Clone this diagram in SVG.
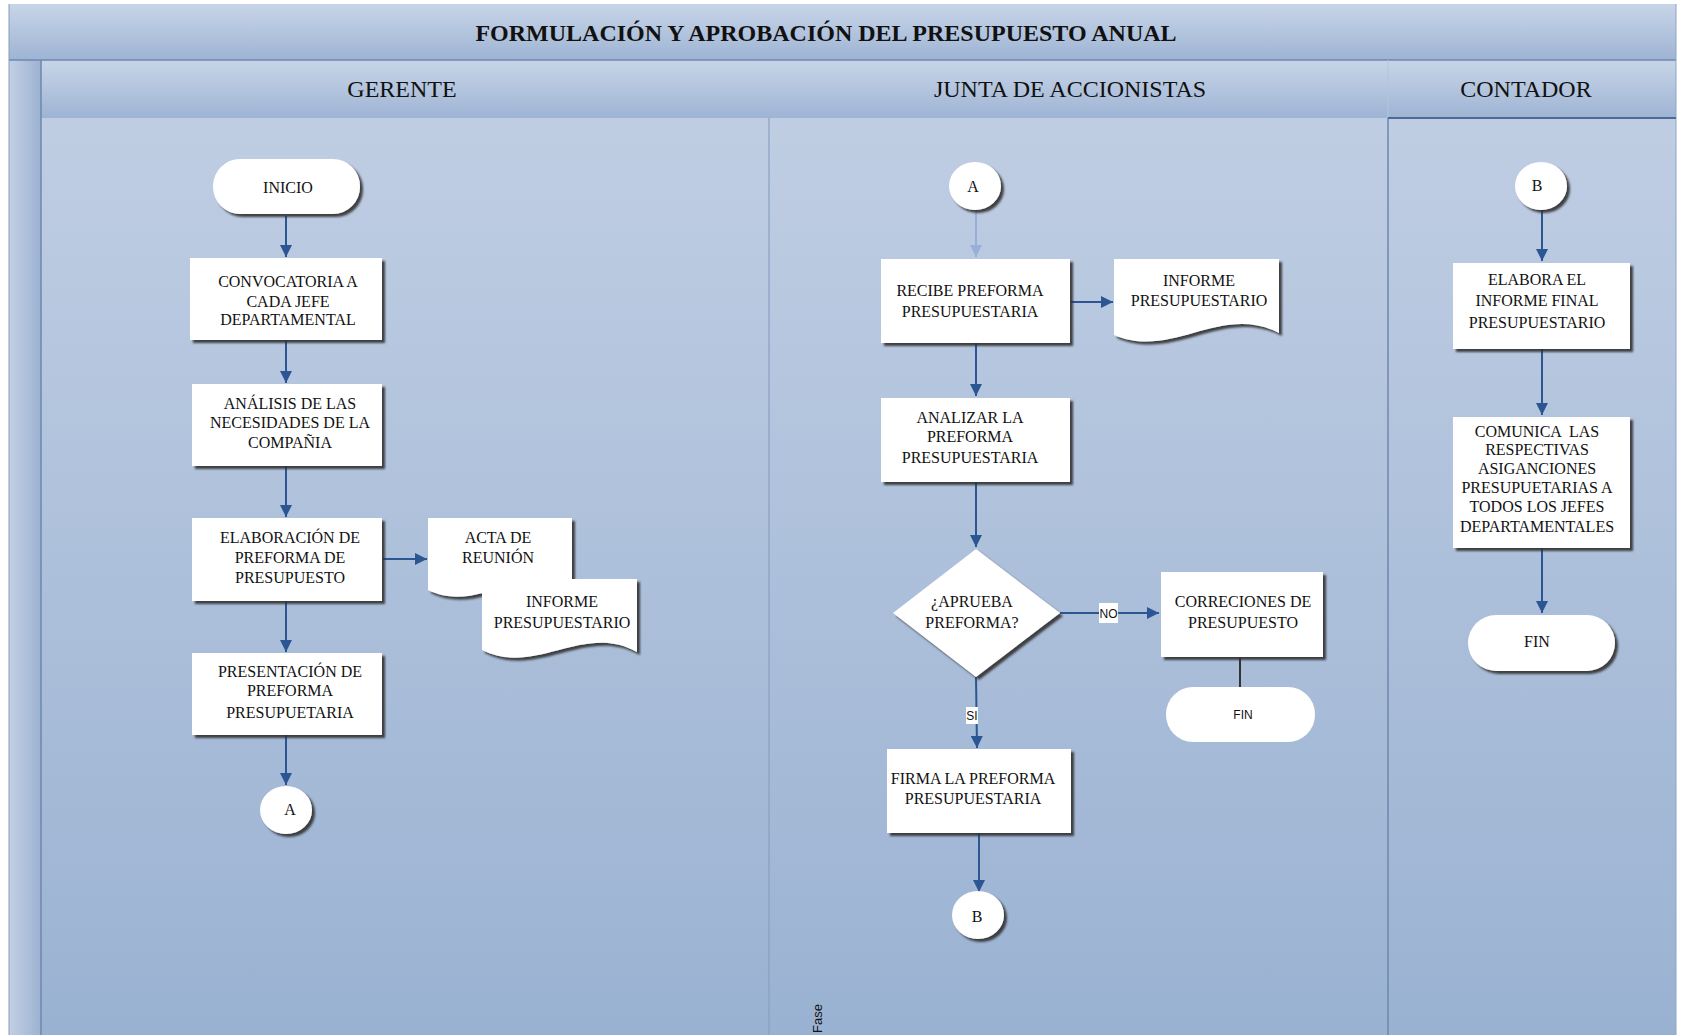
<svg xmlns="http://www.w3.org/2000/svg" width="1684" height="1035" viewBox="0 0 1684 1035">
<defs>
<linearGradient id="gBand" x1="0" y1="0" x2="0" y2="1">
<stop offset="0" stop-color="#c8d5e8"/><stop offset="1" stop-color="#9eb4d4"/>
</linearGradient>
<linearGradient id="gBody" x1="0" y1="0" x2="0" y2="1">
<stop offset="0" stop-color="#c4d1e5"/><stop offset="1" stop-color="#9ab2d2"/>
</linearGradient>
<linearGradient id="gStrip" x1="0" y1="0" x2="1" y2="0">
<stop offset="0" stop-color="#c3d0e5"/><stop offset="1" stop-color="#9cb2d2"/>
</linearGradient>
<filter id="sh" x="-10%" y="-10%" width="130%" height="130%">
<feDropShadow dx="3" dy="3" stdDeviation="1" flood-color="#333" flood-opacity="0.9"/>
</filter>
<marker id="ah" markerUnits="userSpaceOnUse" markerWidth="12" markerHeight="12" refX="12" refY="6" orient="auto">
<path d="M0,0 L12,6 L0,12 z" fill="#2b5593"/>
</marker>
<marker id="ahL" markerUnits="userSpaceOnUse" markerWidth="12" markerHeight="12" refX="12" refY="6" orient="auto">
<path d="M0,0 L12,6 L0,12 z" fill="#98b0d8"/>
</marker>
<style>
.t{font-family:"Liberation Serif","Times New Roman",serif;font-size:16px;fill:#111;text-anchor:middle;white-space:pre}
.h{font-family:"Liberation Serif","Times New Roman",serif;font-size:24px;fill:#111;text-anchor:middle}
.s{font-family:"Liberation Sans",Arial,sans-serif;font-size:12px;fill:#111;text-anchor:middle}
.box{fill:#fff;filter:url(#sh)}
.c{stroke:#2b5593;stroke-width:2;fill:none;marker-end:url(#ah)}
</style>
</defs>
<rect width="1684" height="1035" fill="#fff"/>
<g id="frame">
<rect x="9" y="4" width="1667" height="1031" fill="url(#gBody)"/>
<rect x="9" y="4" width="1667" height="56" fill="url(#gBand)"/>
<rect x="41" y="60" width="1635" height="58" fill="url(#gBand)"/>
<rect x="9" y="60" width="32" height="975" fill="url(#gStrip)"/>
<line x1="9" y1="60" x2="1676" y2="60" stroke="#6d88b0" stroke-width="1.5"/>
<line x1="41" y1="60" x2="41" y2="1035" stroke="#6f87ab" stroke-width="1.5"/>
<line x1="9" y1="4" x2="9" y2="1035" stroke="#8a9bb5" stroke-width="1"/>
<line x1="1676" y1="4" x2="1676" y2="1035" stroke="#8ea5c5" stroke-width="1"/>
<line x1="769" y1="118" x2="769" y2="1035" stroke="#8a9fc0" stroke-width="1.2"/>
<line x1="1388" y1="60" x2="1388" y2="118" stroke="#b5c4da" stroke-width="1"/>
<line x1="1388" y1="118" x2="1388" y2="1035" stroke="#6f87ab" stroke-width="1.5"/>
<line x1="1388" y1="118" x2="1676" y2="118" stroke="#4a6a9a" stroke-width="2"/>
<text x="826" y="41" class="h" font-weight="bold">FORMULACIÓN Y APROBACIÓN DEL PRESUPUESTO ANUAL</text>
<text x="402" y="97" class="h">GERENTE</text>
<text x="1070" y="97" class="h">JUNTA DE ACCIONISTAS</text>
<text x="1526" y="97" class="h">CONTADOR</text>
<text transform="translate(822,1033) rotate(-90)" font-family="Liberation Sans,Arial,sans-serif" font-size="13" fill="#111">Fase</text>
</g>
<g id="connectors">
<line class="c" x1="286" y1="216" x2="286" y2="257"/>
<line class="c" x1="286" y1="340" x2="286" y2="383"/>
<line class="c" x1="286" y1="466" x2="286" y2="517"/>
<line class="c" x1="383" y1="559" x2="427" y2="559"/>
<line class="c" x1="286" y1="601" x2="286" y2="652"/>
<line class="c" x1="286" y1="735" x2="286" y2="785"/>
<line x1="976" y1="211" x2="976" y2="257" stroke="#98b0d8" stroke-width="2" marker-end="url(#ahL)"/>
<line class="c" x1="1071" y1="302" x2="1113" y2="302"/>
<line class="c" x1="976" y1="343" x2="976" y2="396"/>
<line class="c" x1="976" y1="482" x2="976" y2="547"/>
<line class="c" x1="1060" y1="613" x2="1159" y2="613"/>
<line x1="1240" y1="657" x2="1240" y2="687" stroke="#333" stroke-width="2"/>
<line class="c" x1="976" y1="677" x2="977" y2="748"/>
<line class="c" x1="979" y1="833" x2="979" y2="892"/>
<line class="c" x1="1542" y1="210" x2="1542" y2="261"/>
<line class="c" x1="1542" y1="349" x2="1542" y2="415"/>
<line class="c" x1="1542" y1="548" x2="1542" y2="613"/>
<rect x="1099" y="603" width="19" height="20" fill="#fff"/>
<text x="1108.5" y="617.5" class="s">NO</text>
<rect x="966" y="707" width="12" height="17" fill="#fff"/>
<text x="972" y="720" class="s">SI</text>
</g>
<g id="inicio">
<rect x="213" y="159" width="147" height="55" rx="27" class="box"/>
<text x="288" y="193" class="t">INICIO</text>
</g>
<g id="convocatoria">
<rect x="190" y="258" width="192" height="82" class="box"/>
<text x="288" y="287" class="t">CONVOCATORIA A</text>
<text x="288" y="307" class="t">CADA JEFE</text>
<text x="288" y="325" class="t">DEPARTAMENTAL</text>
</g>
<g id="analisis">
<rect x="192" y="384" width="190" height="82" class="box"/>
<text x="290" y="409" class="t">ANÁLISIS DE LAS</text>
<text x="290" y="428" class="t">NECESIDADES DE LA</text>
<text x="290" y="448" class="t">COMPAÑIA</text>
</g>
<g id="elaboracion">
<rect x="192" y="518" width="190" height="83" class="box"/>
<text x="290" y="543" class="t">ELABORACIÓN DE</text>
<text x="290" y="563" class="t">PREFORMA DE</text>
<text x="290" y="583" class="t">PRESUPUESTO</text>
</g>
<g id="acta">
<path d="M428,518 H572 V588 C522,560 478,615 428,590 Z" class="box"/>
<text x="498" y="543" class="t">ACTA DE</text>
<text x="498" y="563" class="t">REUNIÓN</text>
</g>
<g id="informe1">
<path d="M482,579 H637 V652 C583,622 536,677 482,650 Z" class="box"/>
<text x="562" y="607" class="t">INFORME</text>
<text x="562" y="628" class="t">PRESUPUESTARIO</text>
</g>
<g id="presentacion">
<rect x="192" y="653" width="190" height="82" class="box"/>
<text x="290" y="677" class="t">PRESENTACIÓN DE</text>
<text x="290" y="696" class="t">PREFORMA</text>
<text x="290" y="718" class="t">PRESUPUETARIA</text>
</g>
<g id="conA1">
<ellipse cx="286" cy="810" rx="26" ry="24" class="box"/>
<text x="290" y="815" class="t">A</text>
</g>
<g id="conA2">
<ellipse cx="975" cy="186" rx="26" ry="24" class="box"/>
<text x="973" y="192" class="t">A</text>
</g>
<g id="recibe">
<rect x="881" y="259" width="189" height="84" class="box"/>
<text x="970" y="296" class="t">RECIBE PREFORMA</text>
<text x="970" y="317" class="t">PRESUPUESTARIA</text>
</g>
<g id="informe2">
<path d="M1114,259 H1279 V333 C1221,303 1172,360 1114,335 Z" class="box"/>
<text x="1199" y="286" class="t">INFORME</text>
<text x="1199" y="306" class="t">PRESUPUESTARIO</text>
</g>
<g id="analizar">
<rect x="881" y="398" width="189" height="84" class="box"/>
<text x="970" y="423" class="t">ANALIZAR LA</text>
<text x="970" y="442" class="t">PREFORMA</text>
<text x="970" y="463" class="t">PRESUPUESTARIA</text>
</g>
<g id="decision">
<polygon points="976,549 1060,613 976,677 893,613" class="box"/>
<text x="972" y="607" class="t">¿APRUEBA</text>
<text x="972" y="628" class="t">PREFORMA?</text>
</g>
<g id="correciones">
<rect x="1161" y="572" width="162" height="85" class="box"/>
<text x="1243" y="607" class="t">CORRECIONES DE</text>
<text x="1243" y="628" class="t">PRESUPUESTO</text>
</g>
<g id="fin1">
<rect x="1166" y="687" width="149" height="55" rx="27" fill="#fff"/>
<text x="1243" y="719" class="s" font-size="13">FIN</text>
</g>
<g id="firma">
<rect x="887" y="749" width="184" height="84" class="box"/>
<text x="973" y="784" class="t">FIRMA LA PREFORMA</text>
<text x="973" y="804" class="t">PRESUPUESTARIA</text>
</g>
<g id="conB1">
<ellipse cx="978" cy="915" rx="26" ry="24" class="box"/>
<text x="977" y="922" class="t">B</text>
</g>
<g id="conB2">
<ellipse cx="1541" cy="186" rx="26" ry="24" class="box"/>
<text x="1537" y="191" class="t">B</text>
</g>
<g id="elabora">
<rect x="1453" y="263" width="177" height="86" class="box"/>
<text x="1537" y="285" class="t">ELABORA EL</text>
<text x="1537" y="306" class="t">INFORME FINAL</text>
<text x="1537" y="328" class="t">PRESUPUESTARIO</text>
</g>
<g id="comunica">
<rect x="1453" y="417" width="177" height="131" class="box"/>
<text x="1537" y="437" class="t">COMUNICA  LAS</text>
<text x="1537" y="455" class="t">RESPECTIVAS</text>
<text x="1537" y="474" class="t">ASIGANCIONES</text>
<text x="1537" y="493" class="t">PRESUPUETARIAS A</text>
<text x="1537" y="512" class="t">TODOS LOS JEFES</text>
<text x="1537" y="532" class="t">DEPARTAMENTALES</text>
</g>
<g id="fin2">
<rect x="1468" y="615" width="147" height="56" rx="28" class="box"/>
<text x="1537" y="647" class="t">FIN</text>
</g>
</svg>
